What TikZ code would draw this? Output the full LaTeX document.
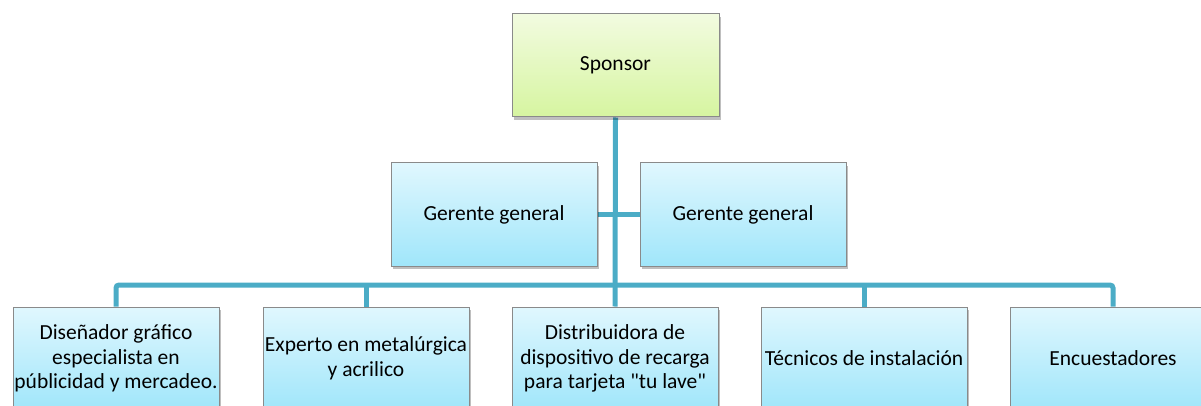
\documentclass[tikz,border=0pt]{standalone}
\usepackage{fontspec}
\setmainfont{Carlito}[Ligatures=TeXOff]
\usetikzlibrary{shadows,backgrounds}
\definecolor{conncol}{RGB}{75,172,198}
\definecolor{bluetop}{RGB}{224,247,254}
\definecolor{bluebot}{RGB}{160,230,250}
\definecolor{greentop}{RGB}{242,251,224}
\definecolor{greenbot}{RGB}{214,245,160}
\definecolor{boxline}{RGB}{138,138,138}
\tikzset{
  orgbox/.style={draw=boxline, line width=1pt, minimum width=206pt, minimum height=103pt,
    inner sep=0pt, align=center, font=\fontsize{21.5}{24.5}\selectfont,
    top color=bluetop, bottom color=bluebot,
    drop shadow={shadow xshift=2pt, shadow yshift=-3pt, opacity=0.25, fill=black}},
  sponsorbox/.style={orgbox, minimum width=207pt, top color=greentop, bottom color=greenbot},
  conn/.style={draw=conncol, line width=5pt}
}
\begin{document}
\begin{tikzpicture}[x=1pt,y=-1pt]
\useasboundingbox (0,0) rectangle (1201,406);
\clip (0,0) rectangle (1201,406);
\node[sponsorbox] (s) at (615.5,65.5) {Sponsor};
\node[orgbox] (gl) at (494,214.5) {Gerente general};
\node[orgbox] (gr) at (743,214.5) {Gerente general};
\node[orgbox] (b1) at (116,358.5) {Diseñador gráfico\\especialista en\\públicidad y mercadeo.};
\node[orgbox] (b2) at (366,358.5) {Experto en metalúrgica\\y acrilico};
\node[orgbox] (b3) at (615,358.5) {Distribuidora de\\dispositivo de recarga\\para tarjeta "tu lave"};
\node[orgbox] (b4) at (864,358.5) {Técnicos de instalación};
\node[orgbox] (b5) at (1113,358.5) {Encuestadores};
\coordinate (bus) at (615,285);
\begin{scope}[on background layer]
\draw[conn] (s.south) -- (b3.north);
\draw[conn] (gl.east) -- (gr.west);
\draw[conn, rounded corners=3pt] (b1.north) |- (bus) -| (b5.north);
\draw[conn] (b2.north) -- (b2.north |- bus);
\draw[conn] (b4.north) -- (b4.north |- bus);
\end{scope}
\end{tikzpicture}
\end{document}
